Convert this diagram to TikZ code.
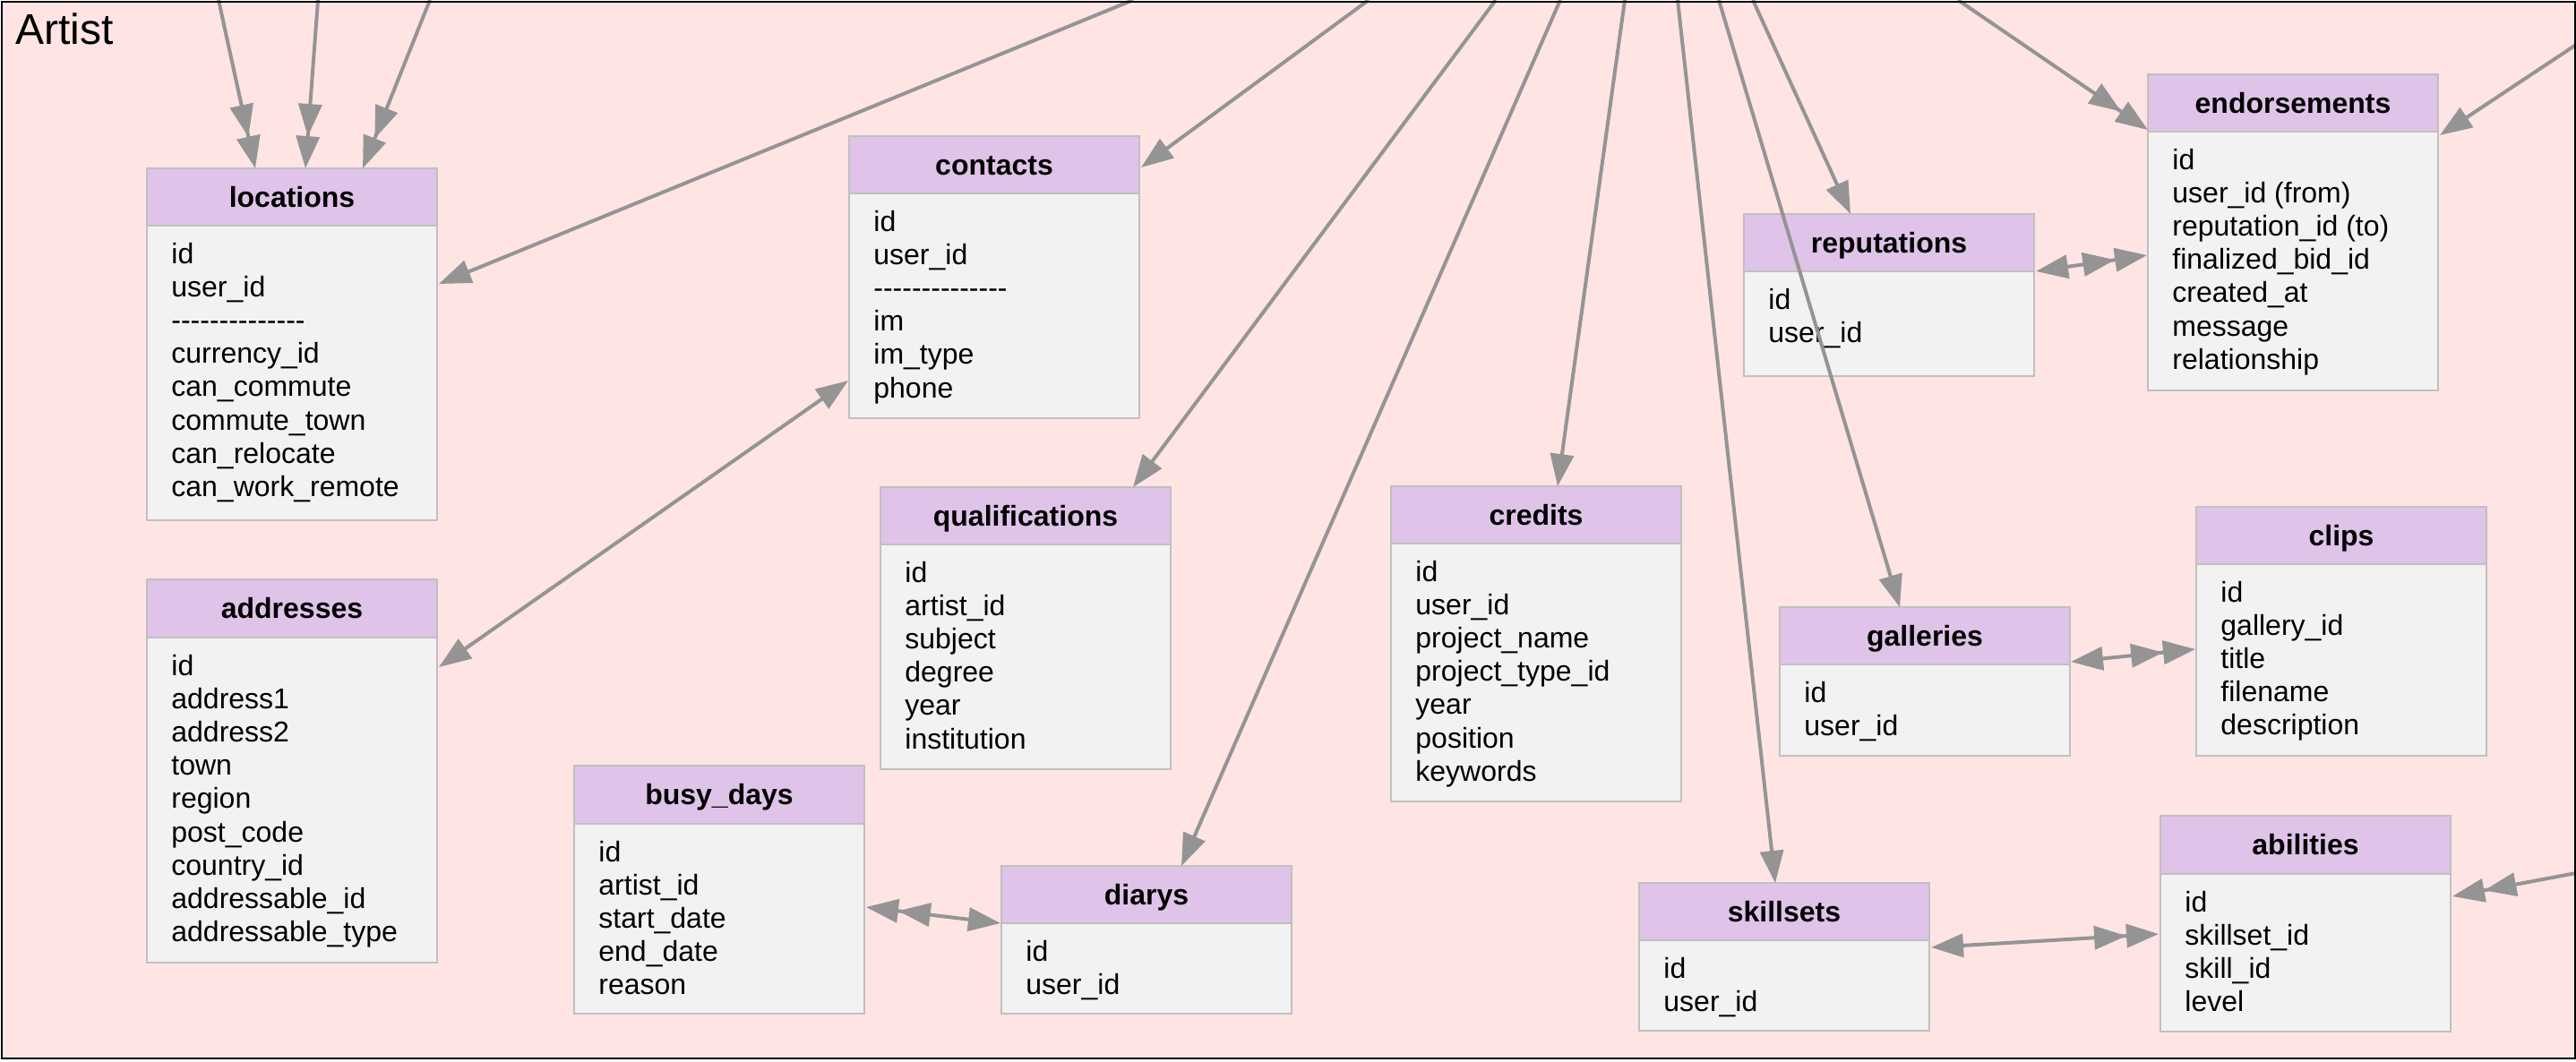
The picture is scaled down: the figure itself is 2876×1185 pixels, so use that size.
\documentclass[tikz,border=0pt]{standalone}
\usepackage{fontspec}
\setmainfont{Liberation Sans}
\usetikzlibrary{arrows.meta,calc}
\definecolor{bgpink}{RGB}{255,228,228}
\definecolor{hdrc}{RGB}{223,195,232}
\definecolor{bodyc}{RGB}{242,242,242}
\definecolor{bordc}{RGB}{192,192,192}
\definecolor{edgec}{RGB}{148,148,148}
\newcommand\dashrow{-{}-{}-{}-{}-{}-{}-{}-{}-{}-{}-{}-{}-{}-}
\newcommand\ertable[7]{%
  \pgfmathsetmacro\erhh{(#4-#3)*0.5}%
  \pgfmathsetmacro\erbh{(#5-#4)*0.5}%
  \node[bodybox, minimum height=\erbh pt] (#1-b) at (#2,#4) {};
  \node[headbox, minimum height=\erhh pt] (#1) at (#2,#3) {};
  \node[titlelab] (#1-t) at ($(#1.north)+(0,43)$) {#6};
  \node[rowlab] (#1-r) at ($(#1-b.north west)+(27,42.5)$) {\begin{tabular}[t]{@{}l@{}}#7\end{tabular}};
}
\tikzset{
  bodybox/.style={draw=bordc, fill=bodyc, line width=1.4pt, minimum width=162pt, anchor=north west, inner sep=0pt, outer sep=0pt},
  headbox/.style={draw=bordc, fill=hdrc, line width=1.4pt, minimum width=162pt, anchor=north west, inner sep=0pt, outer sep=0pt},
  titlelab/.style={anchor=base, inner sep=0pt, font=\bfseries\fontsize{16}{18.55}\selectfont},
  rowlab/.style={anchor=base west, inner sep=0pt, font=\fontsize{16}{18.55}\selectfont},
  conn/.style={draw=edgec, line width=2pt},
  one/.style={-{Triangle[length=18pt,width=13pt]}},
  many/.style={-{Triangle[length=18pt,width=13pt]Triangle[length=18pt,width=13pt]}},
  oneone/.style={{Triangle[length=18pt,width=13pt]}-{Triangle[length=18pt,width=13pt]}},
  onemany/.style={{Triangle[length=18pt,width=13pt]}-{Triangle[length=18pt,width=13pt]Triangle[length=18pt,width=13pt]}},
  manyone/.style={{Triangle[length=18pt,width=13pt]Triangle[length=18pt,width=13pt]}-{Triangle[length=18pt,width=13pt]}},
}
\begin{document}
\begin{tikzpicture}[x=0.5pt,y=-0.5pt]
\useasboundingbox (0,0) rectangle (2876,1185);
\fill[bgpink] (2,2) rectangle (2875,1182);
\node[anchor=base west, inner sep=0pt, font=\fontsize{24}{28}\selectfont] (artist) at (17,49) {Artist};

\ertable{loc}{164}{188}{252}{581}{locations}{id\\user\_id\\\dashrow\\currency\_id\\can\_commute\\commute\_town\\can\_relocate\\can\_work\_remote}
\ertable{addr}{164}{647}{712}{1075}{addresses}{id\\address1\\address2\\town\\region\\post\_code\\country\_id\\addressable\_id\\addressable\_type}
\ertable{cont}{948}{152}{216}{467}{contacts}{id\\user\_id\\\dashrow\\im\\im\_type\\phone}
\ertable{qual}{983}{544}{608}{859}{qualifications}{id\\artist\_id\\subject\\degree\\year\\institution}
\ertable{busy}{641}{855}{920}{1132}{busy\_days}{id\\artist\_id\\start\_date\\end\_date\\reason}
\ertable{diar}{1118}{967}{1031}{1132}{diarys}{id\\user\_id}
\ertable{cred}{1553}{543}{607}{895}{credits}{id\\user\_id\\project\_name\\project\_type\_id\\year\\position\\keywords}
\ertable{rep}{1947}{239}{303}{420}{reputations}{id\\user\_id}
\ertable{endo}{2398}{83}{147}{436}{endorsements}{id\\user\_id (from)\\reputation\_id (to)\\finalized\_bid\_id\\created\_at\\message\\relationship}
\ertable{gall}{1987}{678}{742}{844}{galleries}{id\\user\_id}
\ertable{clip}{2452}{566}{630}{844}{clips}{id\\gallery\_id\\title\\filename\\description}
\ertable{skil}{1830}{986}{1050}{1151}{skillsets}{id\\user\_id}
\ertable{abil}{2412}{911}{976}{1152}{abilities}{id\\skillset\_id\\skill\_id\\level}

% free ends on the frame
\coordinate (t1) at (244,0);
\coordinate (t2) at (355,0);
\coordinate (t3) at (480,0);
\coordinate (t4) at (1265,0);
\coordinate (t5) at (1528,0);
\coordinate (t6) at (1670,0);
\coordinate (t7) at (1742,0);
\coordinate (t8) at (1814,0);
\coordinate (t9) at (1873,0);
\coordinate (t10) at (1919,0);
\coordinate (t11) at (1957,0);
\coordinate (t12) at (2186,0);
\coordinate (r1) at (2876,50);
\coordinate (r2) at (2876,975);

\draw[conn, many] (t1) -- ($(loc.north west)+(121,0)$);
\draw[conn, many] (t2) -- ($(loc.north west)+(177,0)$);
\draw[conn, many] (t3) -- ($(loc.north west)+(241,0)$);
\draw[conn, one] (t4) -- ($(loc.north west)+(326,129)$);
\draw[conn, one] (t5) -- ($(cont.north west)+(326,35)$);
\draw[conn, oneone] ($(cont.north west)+(-1,273)$) -- ($(addr.north west)+(326,98)$);
\draw[conn, one] (t6) -- ($(qual.north west)+(282,0)$);
\draw[conn, one] (t7) -- ($(diar.north west)+(201,0)$);
\draw[conn, one] (t8) -- ($(cred.north west)+(186,0)$);
\draw[conn, one] (t9) -- ($(skil.north west)+(152,0)$);
\draw[conn, one] (t10) -- ($(gall.north west)+(134,0)$);
\draw[conn, one] (t11) -- ($(rep.north west)+(119,0)$);
\draw[conn, many] (t12) -- ($(endo.north west)+(0,62)$);
\draw[conn, one] (r1) -- ($(endo.north west)+(326,68)$);
\draw[conn, onemany] ($(rep.north west)+(326,64)$) -- ($(endo.north west)+(-1,202)$);
\draw[conn, onemany] ($(gall.north west)+(325,61)$) -- ($(clip.north west)+(-1,159)$);
\draw[conn, onemany] ($(skil.north west)+(326,72)$) -- ($(abil.north west)+(-2,132)$);
\draw[conn, many] (r2) -- ($(abil.north west)+(326,90)$);
\draw[conn, manyone] ($(busy.north west)+(326,158)$) -- ($(diar.north west)+(-1,64)$);

\draw[black, line width=1.3pt] (2,2) rectangle (2875,1182);
\end{tikzpicture}
\end{document}
